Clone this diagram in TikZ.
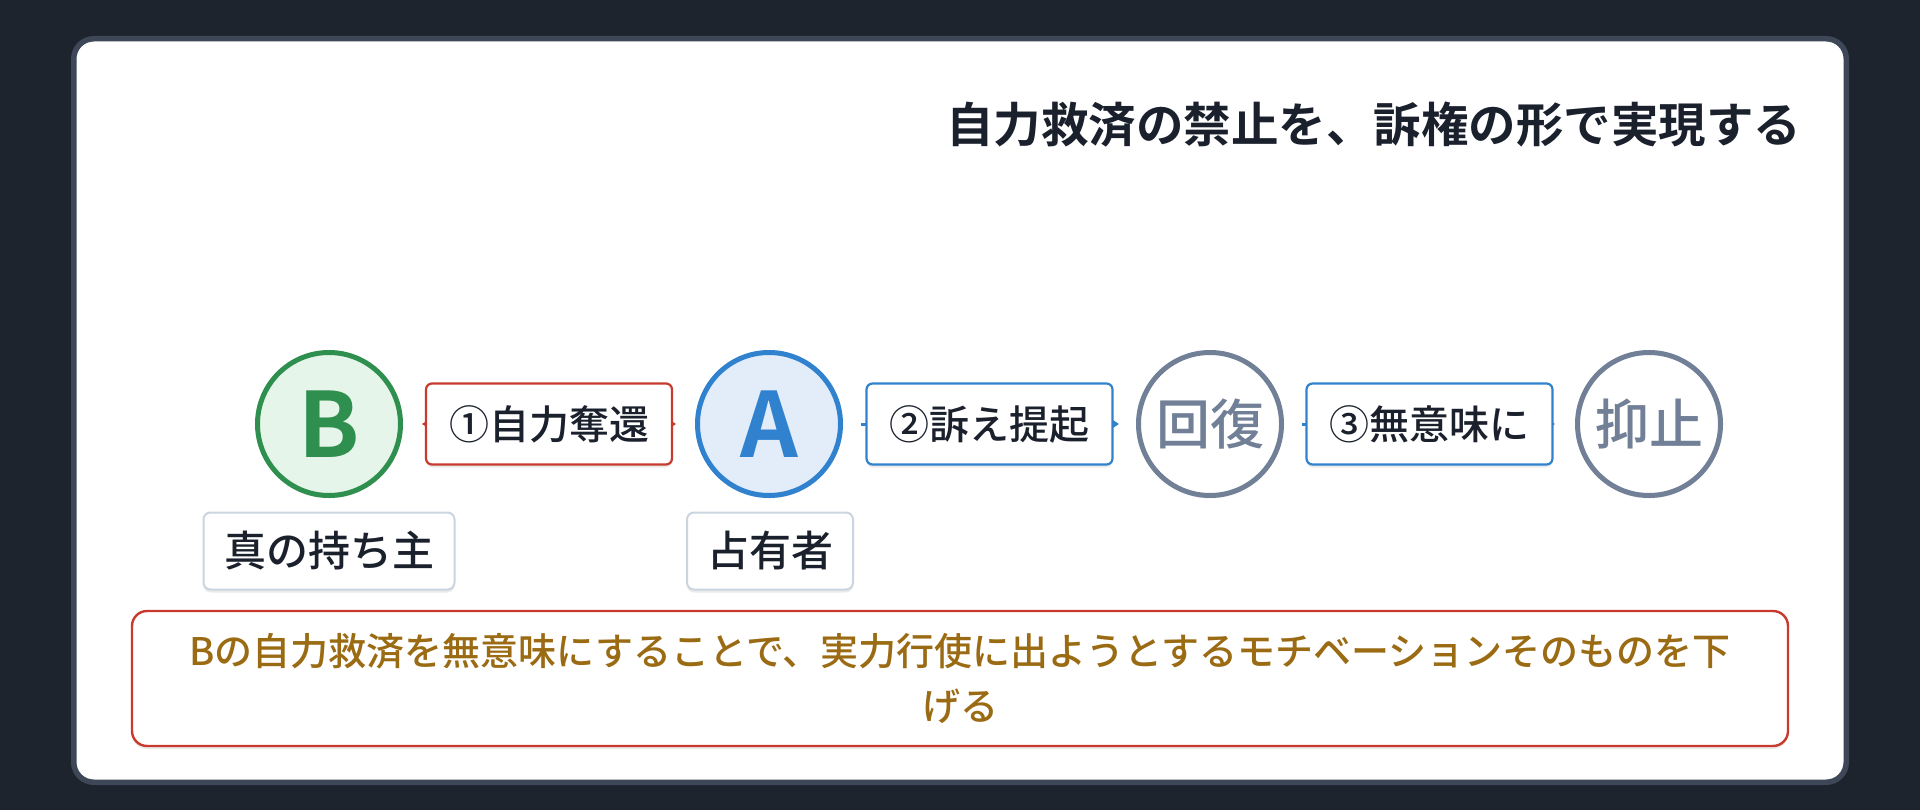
\documentclass[tikz,border=0pt]{standalone}
\usepackage{fontspec}
\setmainfont{Noto Sans CJK JP}[BoldFont={Noto Sans CJK JP Bold}]
\newfontfamily\cjkmed{Noto Sans CJK JP Medium}
\usetikzlibrary{arrows.meta,shadows}
\definecolor{bgc}{HTML}{1E242E}
\definecolor{panelb}{HTML}{3D4757}
\definecolor{darkt}{HTML}{1A202C}
\definecolor{redc}{HTML}{C8392E}
\definecolor{brownc}{HTML}{9A6B13}
\definecolor{greenc}{HTML}{2F8F4F}
\definecolor{greenf}{HTML}{E5F5E9}
\definecolor{bluec}{HTML}{3182CE}
\definecolor{bluef}{HTML}{E2EDF9}
\definecolor{greyc}{HTML}{718096}
\definecolor{subb}{HTML}{CBD5E0}
\tikzset{
  >={Triangle[length=8pt, width=10pt]},
  softshadow/.style={drop shadow={shadow xshift=0pt, shadow yshift=-3pt, opacity=0.08, fill=black}},
  circ/.style={circle, minimum size=143, inner sep=0pt, line width=5pt, softshadow},
  stepbox/.style={rectangle, rounded corners=6pt, line width=2.2pt, fill=white, minimum width=246, minimum height=81, inner sep=0pt, text=darkt, font=\cjkmed\fontsize{40}{46}\selectfont, softshadow},
  subbox/.style={rectangle, rounded corners=7pt, line width=2pt, draw=subb, fill=white, minimum height=77, inner sep=0pt, text=darkt, font=\cjkmed\fontsize{42}{48}\selectfont, softshadow},
  conn/.style={line width=3pt, line cap=butt},
}
\begin{document}
\begin{tikzpicture}[x=1pt, y=-1pt]
\useasboundingbox (0,0) rectangle (1920,810);
\fill[bgc] (0,0) rectangle (1920,810);
\draw[line width=5.5pt, draw=panelb, fill=white, rounded corners=20pt] (73.75,38.75) rectangle (1846.25,782.25);

\node[anchor=east, text=darkt, font=\bfseries\fontsize{47.5}{56}\selectfont] (title) at (1805,125) {自力救済の禁止を、訴権の形で実現する};

\node[circ, draw=greenc, fill=greenf, text=greenc, font=\bfseries\fontsize{90}{92}\selectfont] (B) at (329,424) {B};
\node[circ, draw=bluec, fill=bluef, text=bluec, font=\bfseries\fontsize{90}{92}\selectfont] (A) at (769,424) {A};
\node[circ, draw=greyc, fill=white, text=greyc, font=\cjkmed\fontsize{54}{60}\selectfont] (R) at (1210,424) {回復};
\node[circ, draw=greyc, fill=white, text=greyc, font=\cjkmed\fontsize{54}{60}\selectfont] (D) at (1649,424) {抑止};

\draw[conn, redc, <->, shorten <=19pt, shorten >=19pt] (B) -- node[stepbox, draw=redc] (s1) {①自力奪還} (A);
\draw[conn, bluec, ->, shorten <=18pt, shorten >=17pt] (A) -- node[stepbox, draw=bluec] (s2) {②訴え提起} (R);
\draw[conn, bluec, ->, shorten <=18pt, shorten >=20pt] (R) -- node[stepbox, draw=bluec] (s3) {③無意味に} (D);

\node[subbox, minimum width=251] (lb) at (329,551) {真の持ち主};
\node[subbox, minimum width=166] (la) at (770,551) {占有者};

\node[rectangle, rounded corners=15pt, line width=2.4pt, draw=redc, fill=white, minimum width=1656, minimum height=135, inner sep=0pt, align=center, text=brownc, font=\cjkmed\fontsize{38}{55}\selectfont, softshadow] (note) at (960,678.5) {Bの自力救済を無意味にすることで、実力行使に出ようとするモチベーションそのものを下\\げる};
\end{tikzpicture}
\end{document}
